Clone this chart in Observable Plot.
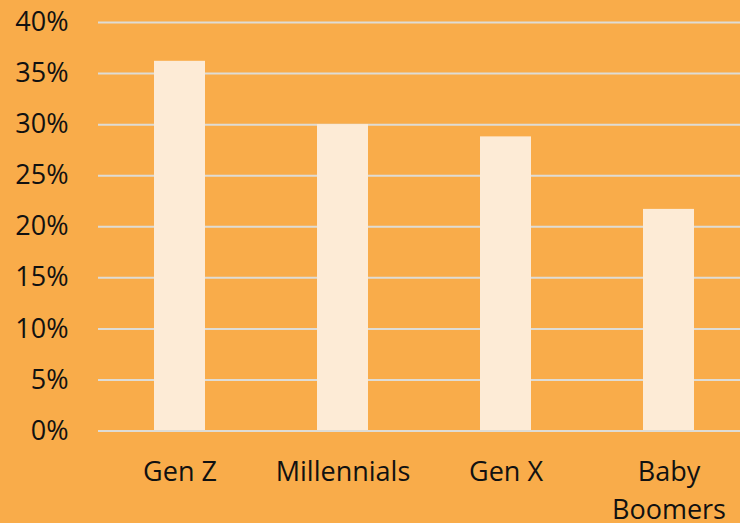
<!DOCTYPE html>
<html>
<head>
<meta charset="utf-8">
<script src="https://cdn.jsdelivr.net/npm/d3@7"></script>
<script src="https://cdn.jsdelivr.net/npm/@observablehq/plot@0.6"></script>
<style>
  html, body { margin: 0; padding: 0; background: #F9AC4A; overflow: hidden; }
  #chart svg { display: block; max-width: none !important; }
</style>
</head>
<body>
<div id="chart"></div>
<script>
const generations = ["Gen Z", "Millennials", "Gen X", "Baby\nBoomers"];
const shares = [0.362, 0.300, 0.288, 0.217];
const yTicks = [0, 0.05, 0.10, 0.15, 0.20, 0.25, 0.30, 0.35, 0.40];

const data = generations.map((g, i) => ({generation: g, share: shares[i]}));

const chart = Plot.plot({
  width: 750,
  height: 523,
  marginLeft: 98,
  marginRight: 0,
  marginTop: 22,
  marginBottom: 92.5,
  style: {background: "#F9AC4A", fontFamily: "'Open Sans', sans-serif", color: "#000", maxWidth: "none"},
  x: {domain: generations, paddingInner: 0.687, paddingOuter: 0.3435, label: null},
  y: {domain: [0, 0.40], label: null},
  marks: [
    Plot.ruleY(yTicks.filter(d => d > 0), {stroke: "#DEDCD6", strokeWidth: 2}),
    Plot.barY(data, {x: "generation", y: "share", fill: "#FDEBD6"}),
    Plot.ruleY([0], {stroke: "#DEDCD6", strokeWidth: 2}),
    Plot.axisY(yTicks, {tickFormat: d => Math.round(d * 100) + "%", tickSize: 0, tickPadding: 30, fontSize: 27, fill: "#111", label: null}),
    Plot.axisX({tickSize: 0, tickPadding: 23, fontSize: 27, fill: "#111", lineHeight: 1.4, label: null})
  ]
});
document.getElementById("chart").appendChild(chart);
</script>
</body>
</html>
